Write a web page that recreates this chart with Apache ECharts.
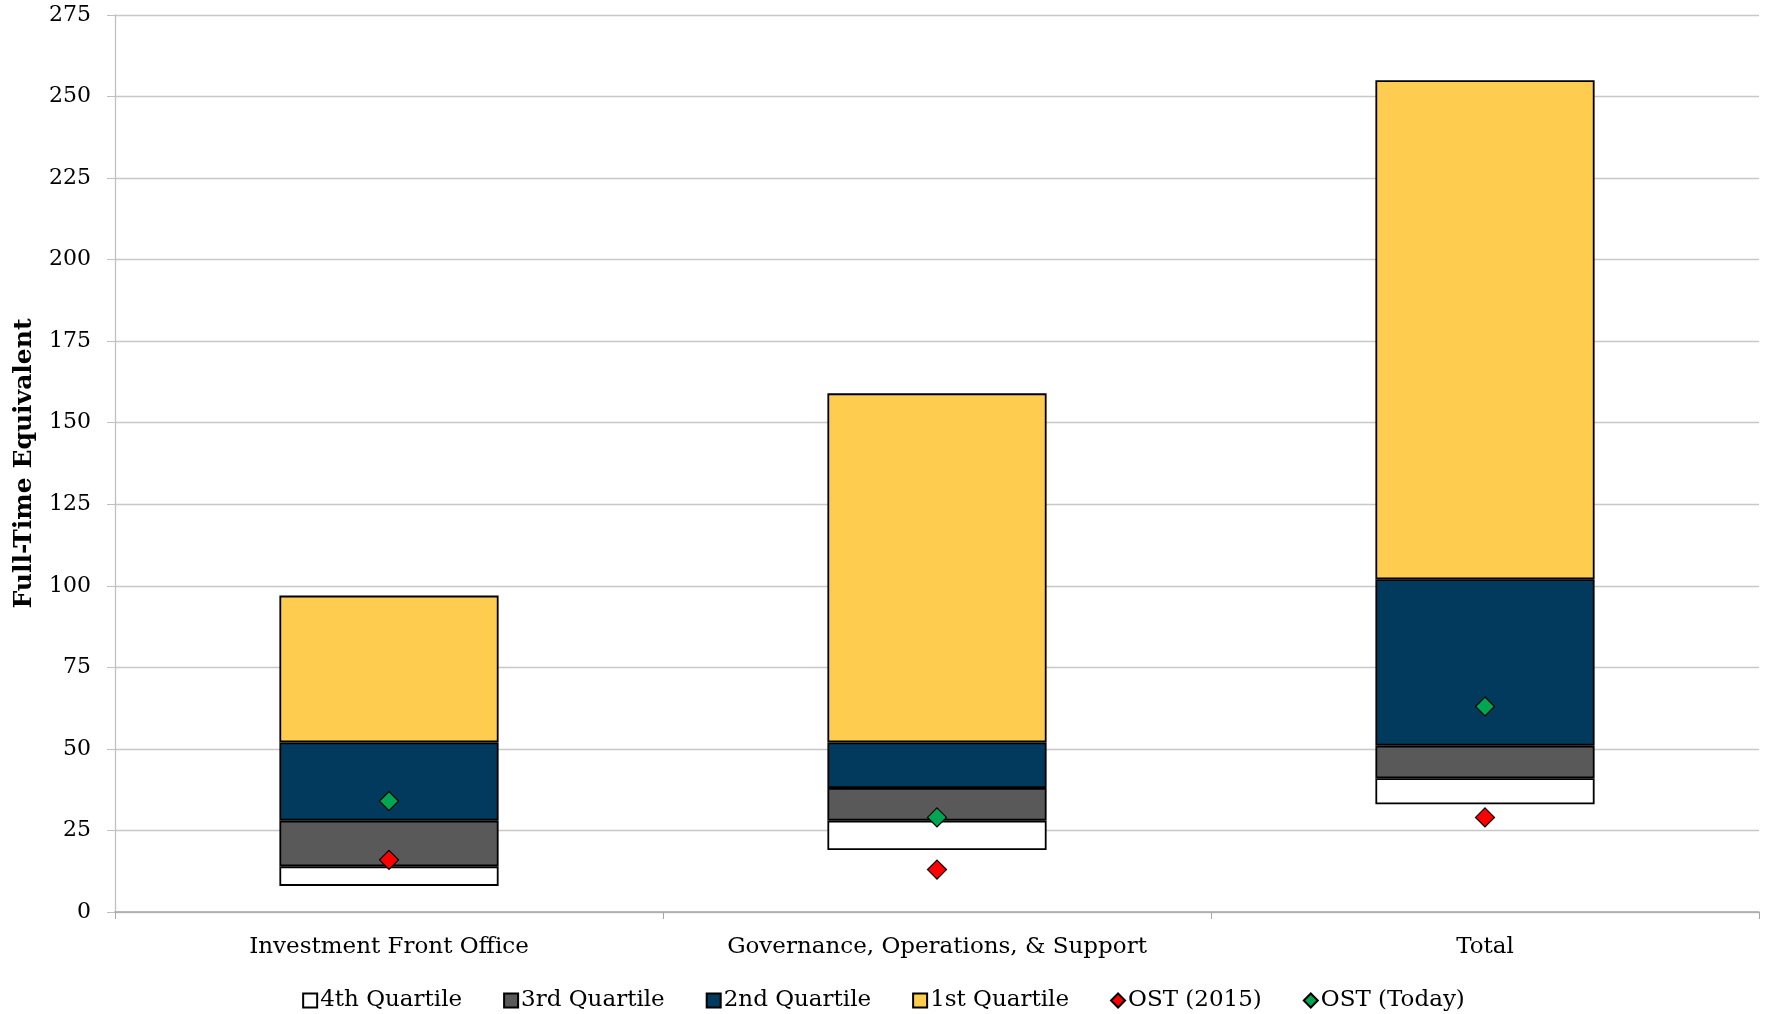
<!DOCTYPE html>
<html>
<head>
<meta charset="utf-8">
<script src="https://cdn.jsdelivr.net/npm/echarts@6/dist/echarts.min.js"></script>
<style>
html,body{margin:0;padding:0;background:#fff;}
#c{width:1767px;height:1014px;}
</style>
</head>
<body>
<div id="c"></div>
<script>
var categories = ['Investment Front Office', 'Governance, Operations, & Support', 'Total'];
// Boundaries (FTE)
var q4Bottom = [8, 19, 33];
var q4Top = [14, 28, 41];
var q3Top = [28, 38, 51];
var q2Top = [52, 52, 102];
var q1Top = [97, 159, 255];
var ost2015 = [16, 13, 29];
var ostToday = [34, 29, 63];
var yTicks = [0, 25, 50, 75, 100, 125, 150, 175, 200, 225, 250, 275];

function diff(a, b) { return a.map(function (v, i) { return v - b[i]; }); }

var FONT = 'DejaVu Serif';
var border = { borderColor: '#000', borderWidth: 1.8 };

function seg(name, data, color) {
  return {
    name: name, type: 'bar', stack: 'q', barWidth: '40%', data: data,
    itemStyle: Object.assign({ color: color }, border)
  };
}

var chart = echarts.init(document.getElementById('c'));
chart.setOption({
  animation: false,
  backgroundColor: '#fff',
  textStyle: { fontFamily: FONT, color: '#000' },
  grid: { left: 115, right: 8, top: 15, bottom: 102, containLabel: false },
  legend: {
    data: [
      { name: '4th Quartile', icon: 'rect' },
      { name: '3rd Quartile', icon: 'rect' },
      { name: '2nd Quartile', icon: 'rect' },
      { name: '1st Quartile', icon: 'rect' },
      { name: 'OST (2015)', icon: 'diamond' },
      { name: 'OST (Today)', icon: 'diamond' }
    ],
    left: 'center', top: 984,
    itemWidth: 14, itemHeight: 14, itemGap: 41,
    textStyle: { fontFamily: FONT, fontSize: 23, color: '#000', padding: [0, 0, 0, -2] }
  },
  xAxis: {
    type: 'category', data: categories,
    axisLine: { lineStyle: { color: '#a6a6a6', width: 1.5 } },
    axisTick: { show: true, length: 7, lineStyle: { color: '#a6a6a6' } },
    axisLabel: { fontFamily: FONT, fontSize: 23, color: '#000', margin: 24 }
  },
  yAxis: {
    type: 'value', min: yTicks[0], max: yTicks[yTicks.length - 1], interval: 25,
    name: 'Full-Time Equivalent', nameLocation: 'middle', nameRotate: 90, nameGap: 78,
    nameTextStyle: { fontFamily: FONT, fontSize: 25, fontWeight: 'bold', color: '#000' },
    axisLine: { show: true, lineStyle: { color: '#c0c0c0', width: 1.3 } },
    axisTick: { show: true, inside: false, length: 8, lineStyle: { color: '#c0c0c0' } },
    splitLine: { lineStyle: { color: '#c8c8c8', width: 1.3 } },
    axisLabel: { fontFamily: FONT, fontSize: 22, color: '#000', margin: 24 }
  },
  series: [
    { name: 'base', type: 'bar', stack: 'q', barWidth: '40%', data: q4Bottom, silent: true,
      itemStyle: { color: 'rgba(0,0,0,0)' }, emphasis: { disabled: true } },
    seg('4th Quartile', diff(q4Top, q4Bottom), '#ffffff'),
    seg('3rd Quartile', diff(q3Top, q4Top), '#595959'),
    seg('2nd Quartile', diff(q2Top, q3Top), '#023a5e'),
    seg('1st Quartile', diff(q1Top, q2Top), '#fecc4f'),
    { name: 'OST (2015)', type: 'scatter', symbol: 'diamond', symbolSize: 19, data: ost2015, z: 5,
      itemStyle: { color: '#ff0000', opacity: 1, borderColor: '#000', borderWidth: 1.2 } },
    { name: 'OST (Today)', type: 'scatter', symbol: 'diamond', symbolSize: 19, data: ostToday, z: 5,
      itemStyle: { color: '#00a651', opacity: 1, borderColor: '#000', borderWidth: 1.2 } }
  ]
});
</script>
</body>
</html>
